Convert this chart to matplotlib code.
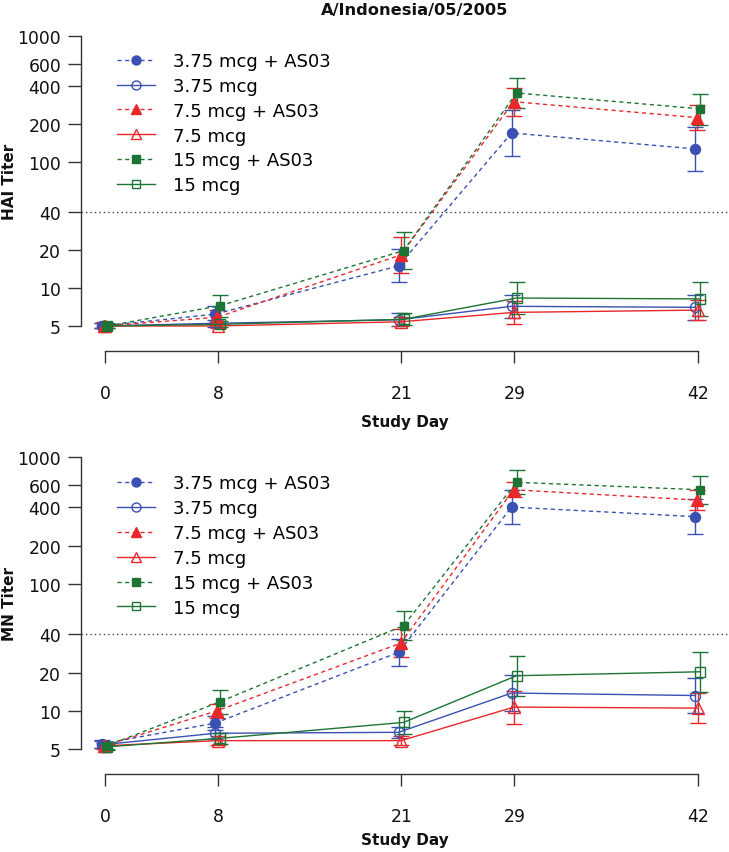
import matplotlib
matplotlib.use("Agg")
import matplotlib.pyplot as plt
import numpy as np

plt.rcParams['font.family'] = ['DejaVu Sans']

days = [0, 8, 21, 29, 42]
labels = ["3.75 mcg + AS03", "3.75 mcg", "7.5 mcg + AS03", "7.5 mcg", "15 mcg + AS03", "15 mcg"]

# HAI titers (GMT, lower CI, upper CI)
hai_gmt = [
    [5.0, 6.2, 15.0, 170, 127],
    [5.0, 5.25, 5.6, 7.16, 7.03],
    [5.0, 5.86, 18.3, 301, 225],
    [5.0, 5.0, 5.4, 6.41, 6.68],
    [5.0, 7.24, 19.8, 353, 264],
    [5.0, 5.15, 5.65, 8.33, 8.2],
]
hai_lo = [
    [4.8, 5.3, 11.1, 112, 85],
    [4.8, 4.9, 5.0, 5.8, 5.6],
    [4.8, 5.1, 13.2, 233, 179],
    [4.8, 4.8, 5.0, 5.2, 5.6],
    [4.8, 5.9, 14.2, 268, 197],
    [4.8, 4.9, 5.1, 6.2, 6.0],
]
hai_hi = [
    [5.3, 7.2, 20.3, 260, 188],
    [5.3, 5.6, 6.3, 8.8, 8.8],
    [5.4, 6.7, 25.5, 389, 283],
    [5.2, 5.3, 5.9, 7.9, 8.0],
    [5.3, 8.83, 27.7, 467, 349],
    [5.2, 5.45, 6.3, 11.2, 11.2],
]

# MN titers
mn_gmt = [
    [5.5, 8.0, 28.9, 403, 339],
    [5.4, 6.65, 6.77, 13.8, 13.2],
    [5.3, 10.0, 34.1, 552, 458],
    [5.3, 5.82, 5.82, 10.7, 10.5],
    [5.3, 11.8, 46.9, 632, 552],
    [5.2, 6.07, 8.1, 18.9, 20.3],
]
mn_lo = [
    [5.1, 7.0, 22.6, 295, 247],
    [5.1, 6.0, 6.1, 10.0, 9.6],
    [5.0, 8.8, 26.5, 480, 382],
    [5.0, 5.4, 5.4, 7.9, 8.0],
    [5.0, 9.5, 36.2, 509, 426],
    [4.9, 5.5, 6.6, 13.2, 14.1],
]
mn_hi = [
    [5.9, 9.1, 37, 550, 465],
    [5.8, 7.4, 7.5, 19.1, 18.2],
    [5.6, 11.4, 44, 640, 549],
    [5.6, 6.3, 6.3, 14.4, 13.8],
    [5.6, 14.6, 60.8, 785, 713],
    [5.5, 6.7, 9.9, 27.2, 28.9],
]

ytick_vals = [5, 10, 20, 40, 100, 200, 400, 600, 1000]
threshold = 40

blue = '#3A50B2'
red = '#E8282A'
green = '#1E7434'
colors = [blue, blue, red, red, green, green]
markers = ['o', 'o', '^', '^', 's', 's']
filled = [True, False, True, False, True, False]
msizes = [7.2, 7.2, 8.2, 8.2, 6.4, 6.8]
dodge = [-0.2, -0.2, -0.06, -0.03, 0.15, 0.15]

W, H = 729, 853
fig = plt.figure(figsize=(W / 100, H / 100), dpi=100)

panels = [
    dict(gmt=hai_gmt, lo=hai_lo, hi=hai_hi, ylabel="HAI Titer",
         top=24.4, bot=339.6, ylim=(3.97, 1258), spine_out=8.9,
         xlab_y=423, ylab_y=182, leg_top=53.0),
    dict(gmt=mn_gmt, lo=mn_lo, hi=mn_hi, ylabel="MN Titer",
         top=445.0, bot=763.0, ylim=(3.95, 1266), spine_out=8.6,
         xlab_y=841, ylab_y=604, leg_top=475.5),
]

axcol = '#333333'
for p in panels:
    ax = fig.add_axes([81 / W, 1 - p['bot'] / H, (W - 81) / W, (p['bot'] - p['top']) / H])
    ax.set_yscale('log')
    ax.set_xlim(-1.70, 44.2)
    ax.set_ylim(*p['ylim'])
    for i in range(6):
        x = np.array(days, dtype=float) + dodge[i]
        y = np.array(p['gmt'][i])
        lo = np.array(p['lo'][i])
        hi = np.array(p['hi'][i])
        ls = (0, (3, 2.5)) if filled[i] else '-'
        ax.errorbar(x, y, yerr=[y - lo, hi - y], fmt='none', ecolor=colors[i],
                    elinewidth=1.0, capsize=5.8, capthick=1.0, zorder=2)
        ax.plot(x, y, linestyle=ls, color=colors[i], lw=1.0, marker=markers[i],
                markersize=msizes[i],
                markerfacecolor=colors[i] if filled[i] else 'none',
                markeredgecolor=colors[i], markeredgewidth=1.0,
                label=labels[i], zorder=3)
    ax.axhline(threshold, color='#444444', lw=1.0, linestyle=(0, (1, 2.2)), zorder=1)

    ax.spines['top'].set_visible(False)
    ax.spines['right'].set_visible(False)
    ax.spines['left'].set_bounds(5, 1000)
    ax.spines['bottom'].set_bounds(0, 42)
    ax.spines['bottom'].set_position(('outward', p['spine_out']))
    for s in ('left', 'bottom'):
        ax.spines[s].set_color(axcol)
        ax.spines[s].set_linewidth(1.0)
    ax.set_yticks(ytick_vals)
    ax.set_yticklabels([str(v) for v in ytick_vals])
    ax.yaxis.set_minor_locator(matplotlib.ticker.NullLocator())
    ax.set_xticks(days)
    ax.set_xticklabels([str(d) for d in days])
    ax.tick_params(axis='y', length=9.4, width=1.0, color=axcol, pad=5, labelsize=12.4, labelcolor='#111111')
    ax.tick_params(axis='x', length=8.6, width=1.0, color=axcol, pad=15, labelsize=12.4, labelcolor='#111111')

    fig.text(405 / W, 1 - p['xlab_y'] / H, "Study Day", ha='center', va='center',
             fontsize=11, fontweight='bold', color='#111111')
    fig.text(10 / W, 1 - p['ylab_y'] / H, p['ylabel'], ha='center', va='center',
             rotation=90, fontsize=11, fontweight='bold', color='#111111')

    ax.legend(loc='upper left', bbox_to_anchor=(117.3 / W, 1 - p['leg_top'] / H),
              bbox_transform=fig.transFigure, frameon=False, fontsize=13,
              handlelength=2.09, handletextpad=1.0, labelspacing=0.38,
              borderpad=0, borderaxespad=0, markerscale=0.9)

fig.text(415 / W, 1 - 10.5 / H, "A/Indonesia/05/2005", ha='center', va='center',
         fontsize=11.7, fontweight='bold', color='#111111')

fig.savefig("out.png", dpi=100)
